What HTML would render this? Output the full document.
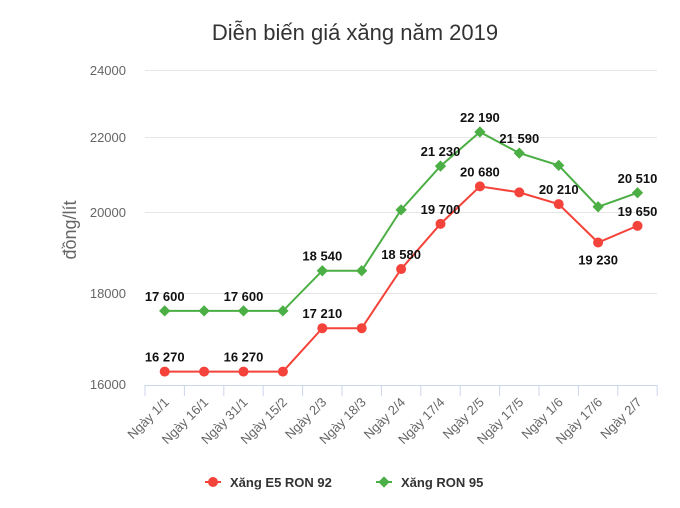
<!DOCTYPE html>
<html><head><meta charset="utf-8"><style>body{margin:0;background:#fff}</style></head><body>
<svg width="680" height="503" xmlns="http://www.w3.org/2000/svg" font-family="Liberation Sans, sans-serif">
<rect width="680" height="503" fill="#fff"/>
<text x="355" y="40" text-anchor="middle" font-size="22" fill="#333">Diễn biến giá xăng năm 2019</text>
<text transform="translate(76,230) rotate(-90)" text-anchor="middle" font-size="18" fill="#666">đồng/lít</text>
<g font-size="13" fill="#666" text-anchor="end">
<text x="126" y="75">24000</text><text x="126" y="142">22000</text><text x="126" y="217">20000</text><text x="126" y="298">18000</text><text x="126" y="389">16000</text>
</g>
<g stroke="#e6e6e6" stroke-width="1">
<line x1="145" x2="657" y1="70.5" y2="70.5"/><line x1="145" x2="657" y1="137.5" y2="137.5"/><line x1="145" x2="657" y1="212.5" y2="212.5"/><line x1="145" x2="657" y1="293.5" y2="293.5"/>
</g>
<line x1="145" x2="657" y1="385.5" y2="385.5" stroke="#ccd6eb"/>
<g id="ticks" stroke="#ccd6eb"></g>
<g id="xl" font-size="13" fill="#666" text-anchor="end"></g>
<g id="s"></g>
<g font-size="13" font-weight="bold" fill="#333">
<circle cx="213" cy="482" r="5" fill="#f4433a"/><line x1="205" x2="221" y1="482" y2="482" stroke="#f4433a" stroke-width="2"/>
<text x="230" y="487">Xăng E5 RON 92</text>
<line x1="376" x2="392" y1="482" y2="482" stroke="#4caf45" stroke-width="2"/><rect x="380" y="478" width="8" height="8" fill="#4caf45" transform="rotate(45 384 482)"/>
<text x="401" y="487">Xăng RON 95</text>
</g>
</svg>
<script>
const cats=["Ngày 1/1","Ngày 16/1","Ngày 31/1","Ngày 15/2","Ngày 2/3","Ngày 18/3","Ngày 2/4","Ngày 17/4","Ngày 2/5","Ngày 17/5","Ngày 1/6","Ngày 17/6","Ngày 2/7"];
const red=[16270,16270,16270,16270,17210,17210,18580,19700,20680,20520,20210,19230,19650];
const grn=[17600,17600,17600,17600,18540,18540,20060,21230,22190,21590,21250,20140,20510];
const rl=[1,0,1,0,1,0,1,1,1,0,1,1,1], gl=[1,0,1,0,1,0,0,1,1,1,0,0,1];
const X=i=>164.7+39.4*i, Y=v=>384.5-1778*Math.log10(v/16000);
let h="";
for(let i=0;i<=13;i++)h+=`<line x1="${145+39.4*i}" x2="${145+39.4*i}" y1="385" y2="396"/>`;
document.getElementById("ticks").innerHTML=h;
h="";cats.forEach((c,i)=>h+=`<text transform="translate(${X(i)+5},${403}) rotate(-45)">${c}</text>`);
document.getElementById("xl").innerHTML=h;
const f=v=>String(v).slice(0,2)+" "+String(v).slice(2);
h="";
h+=`<polyline fill="none" stroke="#4caf45" stroke-width="2" points="${grn.map((v,i)=>X(i)+","+Y(v)).join(" ")}"/>`;
h+=`<polyline fill="none" stroke="#f4433a" stroke-width="2" points="${red.map((v,i)=>X(i)+","+Y(v)).join(" ")}"/>`;
grn.forEach((v,i)=>{h+=`<rect x="${X(i)-4}" y="${Y(v)-4}" width="8" height="8" fill="#4caf45" transform="rotate(45 ${X(i)} ${Y(v)})"/>`;
 if(gl[i])h+=`<text x="${X(i)}" y="${Y(v)-10}" text-anchor="middle" font-size="13" font-weight="bold" fill="#111">${f(v)}</text>`;});
red.forEach((v,i)=>{h+=`<circle cx="${X(i)}" cy="${Y(v)}" r="5" fill="#f4433a"/>`;
 if(rl[i]){let dy=i==11?22:-10;h+=`<text x="${X(i)}" y="${Y(v)+dy}" text-anchor="middle" font-size="13" font-weight="bold" fill="#111">${f(v)}</text>`;}});
document.getElementById("s").innerHTML=h;
</script>
</body></html>
